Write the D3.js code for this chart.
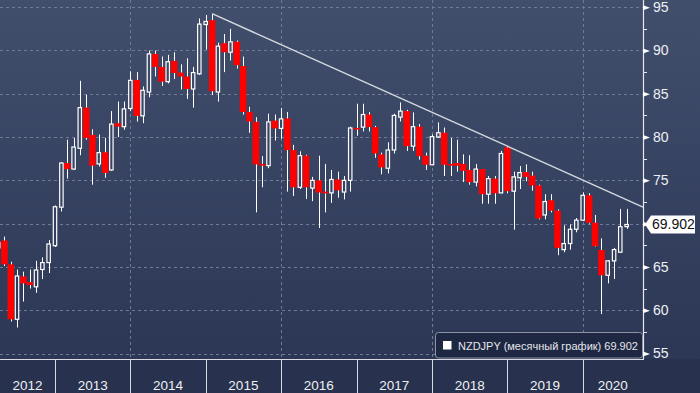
<!DOCTYPE html>
<html>
<head>
<meta charset="utf-8">
<title>NZDJPY monthly</title>
<script src="https://cdn.jsdelivr.net/npm/d3@7/dist/d3.min.js"></script>
<style>
  html, body { margin: 0; padding: 0; background: #28314d; }
  svg { display: block; font-family: "Liberation Sans", Arial, sans-serif; }
</style>
</head>
<body>
<svg id="chart" width="700" height="393"></svg>
<script>
// monthly candles, NZDJPY
const months = [
  "2012-03","2012-04","2012-05","2012-06","2012-07","2012-08","2012-09","2012-10","2012-11","2012-12",
  "2013-01","2013-02","2013-03","2013-04","2013-05","2013-06","2013-07","2013-08","2013-09","2013-10","2013-11","2013-12",
  "2014-01","2014-02","2014-03","2014-04","2014-05","2014-06","2014-07","2014-08","2014-09","2014-10","2014-11","2014-12",
  "2015-01","2015-02","2015-03","2015-04","2015-05","2015-06","2015-07","2015-08","2015-09","2015-10","2015-11","2015-12",
  "2016-01","2016-02","2016-03","2016-04","2016-05","2016-06","2016-07","2016-08","2016-09","2016-10","2016-11","2016-12",
  "2017-01","2017-02","2017-03","2017-04","2017-05","2017-06","2017-07","2017-08","2017-09","2017-10","2017-11","2017-12",
  "2018-01","2018-02","2018-03","2018-04","2018-05","2018-06","2018-07","2018-08","2018-09","2018-10","2018-11","2018-12",
  "2019-01","2019-02","2019-03","2019-04","2019-05","2019-06","2019-07","2019-08","2019-09","2019-10","2019-11","2019-12",
  "2020-01","2020-02","2020-03","2020-04","2020-05","2020-06","2020-07"
];
const open = [
  67.2, 68.05, 65.3, 58.95, 63.9, 63.25, 62.7, 64.7, 65.5, 67.45,
  71.9, 77.0, 76.3, 78.7, 83.4, 80.25, 76.9, 78.24, 76.2, 81.6, 81.2, 83.3,
  86.6, 82.45, 85.2, 89.6, 88.1, 86.4, 88.8, 87.45, 87.0, 85.55, 87.3, 93.0,
  93.5, 85.2, 90.85, 89.8, 91.0, 88.2, 82.9, 81.75, 76.9, 76.7, 81.9, 81.0,
  82.15, 78.5, 74.2, 77.85, 74.1, 75.0, 73.7, 73.55, 75.1, 73.65, 75.0, 81.05,
  81.15, 82.6, 81.15, 78.0, 76.4, 78.5, 82.3, 83.0, 78.95, 81.2, 77.85, 76.8,
  80.0, 80.5, 76.9, 77.0, 76.9, 76.2, 74.8, 76.3, 73.4, 75.2, 73.55, 78.8,
  73.75, 75.3, 75.95, 75.55, 74.4, 71.0, 72.7, 71.5, 67.0, 67.7, 69.35, 70.4,
  73.27, 70.1, 66.96, 64.04, 65.7, 66.7, 69.65
];
const high = [
  68.4, 68.5, 65.6, 64.7, 64.45, 64.7, 65.7, 66.1, 68.1, 72.1,
  77.1, 79.7, 79.9, 86.5, 84.9, 80.9, 80.3, 79.9, 83.0, 84.1, 84.1, 87.6,
  87.5, 85.85, 90.0, 90.0, 89.3, 89.5, 89.8, 88.4, 89.1, 88.1, 93.7, 94.1,
  94.2, 90.9, 91.9, 92.5, 91.15, 89.3, 83.5, 82.3, 77.8, 82.7, 82.6, 83.35,
  82.9, 79.1, 78.35, 77.95, 75.4, 77.85, 76.9, 76.2, 76.0, 75.5, 81.2, 83.85,
  83.85, 82.9, 81.3, 78.2, 79.4, 82.7, 84.0, 83.15, 82.85, 81.5, 78.2, 80.3,
  81.7, 81.1, 79.9, 79.7, 78.0, 77.9, 76.9, 76.3, 75.5, 75.5, 78.4, 78.9,
  76.0, 76.65, 76.85, 76.0, 74.5, 73.4, 73.4, 71.65, 69.8, 69.9, 70.65, 73.6,
  73.5, 71.0, 68.3, 65.8, 67.2, 71.7, 71.7
];
const low = [
  66.5, 65.1, 58.7, 58.0, 61.0, 62.5, 62.0, 63.6, 64.3, 67.3,
  71.4, 75.2, 76.2, 77.9, 79.7, 74.5, 76.6, 75.3, 76.1, 80.0, 80.85, 83.0,
  81.8, 81.6, 84.6, 87.0, 85.9, 86.2, 86.7, 85.5, 84.4, 83.4, 87.2, 90.1,
  84.85, 84.1, 87.5, 88.85, 87.9, 82.6, 80.5, 71.3, 74.2, 76.4, 79.6, 79.8,
  73.7, 73.2, 74.0, 72.85, 72.6, 69.5, 71.3, 72.4, 73.0, 72.8, 73.7, 80.15,
  80.65, 80.65, 77.6, 75.7, 75.8, 78.1, 81.8, 78.4, 78.4, 77.4, 76.2, 76.75,
  79.9, 75.5, 75.5, 76.0, 74.8, 74.5, 74.3, 72.3, 72.3, 72.3, 73.5, 73.5,
  69.3, 74.0, 74.9, 73.8, 70.5, 70.5, 71.3, 66.35, 66.7, 67.0, 69.0, 70.3,
  70.0, 67.35, 59.55, 63.1, 63.6, 66.7, 69.4
];
const close = [
  67.8, 65.3, 58.95, 63.95, 63.1, 62.9, 64.65, 65.5, 67.65, 71.95,
  77.0, 76.3, 78.85, 83.4, 79.9, 76.7, 78.2, 75.85, 81.5, 81.2, 83.25, 86.55,
  82.45, 85.4, 89.6, 88.1, 86.4, 88.7, 87.4, 87.0, 85.55, 87.45, 93.05, 93.35,
  85.3, 90.5, 89.8, 91.0, 88.3, 82.9, 81.8, 76.85, 76.7, 81.75, 81.0, 82.1,
  78.5, 74.2, 77.85, 74.2, 75.0, 73.6, 73.5, 75.1, 73.85, 75.0, 81.05, 80.9,
  82.6, 81.15, 78.1, 76.5, 78.5, 82.5, 83.0, 78.95, 81.2, 77.8, 76.8, 80.05,
  80.5, 76.8, 76.7, 76.7, 76.1, 74.8, 76.3, 73.4, 75.2, 73.5, 78.1, 73.75,
  75.4, 75.9, 75.4, 74.4, 70.6, 72.55, 71.5, 67.2, 67.7, 69.35, 70.4, 73.27,
  70.1, 67.4, 64.04, 65.7, 67.0, 69.65, 69.902
];
const yTicks = [55, 60, 65, 70, 75, 80, 85, 90, 95];
const yMinor = [57.5, 62.5, 67.5, 72.5, 77.5, 82.5, 87.5, 92.5];
const years = [2012, 2013, 2014, 2015, 2016, 2017, 2018, 2019, 2020];
const gridYears = [2014, 2016, 2018, 2020];
// resistance line: two highs it touches
const trendMonths = ["2015-01", "2018-12"];
const trendValues = [94.25, 78.95];
const lastPrice = "69.902";
const legendText = "NZDJPY (месячный график) " + lastPrice;

const W = 700, H = 393;
const plotRight = 643, plotBottom = 359;

const parse = d3.timeParse("%Y-%m");
// candle is stamped at the end of its month
const stamp = m => d3.timeMonth.offset(parse(m), 1);

const x = d3.scaleTime()
  .domain([new Date(2013, 0, 1), new Date(2020, 0, 1)])
  .range([55, 582.7]);
const y = d3.scaleLinear().domain([55, 95]).range([353.5, 7.2]);

const data = months.map((m, i) => ({
  date: stamp(m), o: open[i], h: high[i], l: low[i], c: close[i]
}));

const svg = d3.select("#chart");
const defs = svg.append("defs");

const grad = defs.append("linearGradient")
  .attr("id", "bg").attr("gradientUnits", "userSpaceOnUse")
  .attr("x1", 0).attr("y1", 0).attr("x2", 0).attr("y2", plotBottom);
grad.append("stop").attr("offset", "0%").attr("stop-color", "#414e6c");
grad.append("stop").attr("offset", "100%").attr("stop-color", "#2c3756");

defs.append("clipPath").attr("id", "plotclip")
  .append("rect").attr("x", 0).attr("y", 0).attr("width", plotRight).attr("height", plotBottom);

svg.append("rect").attr("width", W).attr("height", H).attr("fill", "#28314d");
svg.append("rect").attr("width", W).attr("height", plotBottom).attr("fill", "url(#bg)");

// grid
const grid = svg.append("g").attr("stroke", "#6e7a96").attr("stroke-dasharray", "3,3").attr("stroke-width", 1);
grid.selectAll("line.h").data(yTicks).join("line")
  .attr("x1", 0).attr("x2", plotRight)
  .attr("y1", d => Math.round(y(d)) + 0.5).attr("y2", d => Math.round(y(d)) + 0.5);
grid.selectAll("line.v").data(gridYears).join("line")
  .attr("x1", d => Math.round(x(new Date(d, 0, 1))) + 0.5)
  .attr("x2", d => Math.round(x(new Date(d, 0, 1))) + 0.5)
  .attr("y1", 0).attr("y2", plotBottom);

// candles
const plot = svg.append("g").attr("clip-path", "url(#plotclip)");

plot.selectAll("line.wick").data(data).join("line")
  .attr("class", "wick")
  .attr("x1", d => Math.round(x(d.date)) + 0.5)
  .attr("x2", d => Math.round(x(d.date)) + 0.5)
  .attr("y1", d => y(d.h)).attr("y2", d => y(d.l))
  .attr("stroke", "#ffffff").attr("stroke-width", 1);

const up = data.filter(d => d.c >= d.o);
const down = data.filter(d => d.c < d.o);

plot.selectAll("rect.down").data(down).join("rect")
  .attr("class", "down")
  .attr("x", d => x(d.date) - 3.3)
  .attr("width", 6.6)
  .attr("y", d => y(d.o))
  .attr("height", d => Math.max(1.5, y(d.c) - y(d.o)))
  .attr("fill", "#ff0000");

// hollow bodies: filled with the same background so the wick stays hidden
plot.selectAll("rect.up").data(up).join("rect")
  .attr("class", "up")
  .attr("x", d => x(d.date) - 1.7)
  .attr("width", 3.4)
  .attr("y", d => y(d.c))
  .attr("height", d => Math.max(1, y(d.o) - y(d.c)))
  .attr("fill", "url(#bg)")
  .attr("stroke", "#ffffff").attr("stroke-width", 1.2);

// trend line from first touch to the right edge
const t0 = { x: x(stamp(trendMonths[0])), y: y(trendValues[0]) };
const t1 = { x: x(stamp(trendMonths[1])), y: y(trendValues[1]) };
const slope = (t1.y - t0.y) / (t1.x - t0.x);
svg.append("line")
  .attr("x1", t0.x).attr("y1", t0.y)
  .attr("x2", plotRight).attr("y2", t0.y + slope * (plotRight - t0.x))
  .attr("stroke", "#d4d8e0").attr("stroke-width", 1.4);

// right axis
svg.append("line")
  .attr("x1", plotRight + 0.5).attr("x2", plotRight + 0.5)
  .attr("y1", 0).attr("y2", plotBottom)
  .attr("stroke", "#e6e8ee").attr("stroke-width", 1.2);

const py = y(+lastPrice);

const yAxis = svg.append("g")
  .attr("transform", `translate(${plotRight},0)`)
  .call(d3.axisRight(y).tickValues(yTicks).tickSize(0).tickPadding(10).tickFormat(d3.format("d")));
yAxis.select(".domain").remove();
yAxis.selectAll("text")
  .attr("fill", "#eef0f4").attr("font-size", 14)
  .attr("font-family", "'Liberation Sans', Arial, sans-serif");
// the price flag covers the label next to it
yAxis.selectAll(".tick").filter(d => Math.abs(y(d) - py) < 12).select("text").remove();
yAxis.selectAll(".tick").append("path")
  .attr("d", "M0,-2.5L7,0L0,2.5Z").attr("fill", "#ffffff");

svg.append("g").selectAll("line").data(yMinor).join("line")
  .attr("x1", plotRight).attr("x2", plotRight + 4)
  .attr("y1", d => Math.round(y(d)) + 0.5).attr("y2", d => Math.round(y(d)) + 0.5)
  .attr("stroke", "#e6e8ee");

// last price flag
svg.append("path")
  .attr("d", `M645,${py} L651,${py - 9} L695,${py - 9} L695,${py + 9} L651,${py + 9} Z`)
  .attr("fill", "#ffffff");
svg.append("text")
  .attr("x", 652).attr("y", py + 5)
  .attr("font-size", 14).attr("fill", "#111111")
  .text(lastPrice);

// bottom axis: year bands
svg.append("line")
  .attr("x1", 0).attr("x2", plotRight + 1)
  .attr("y1", plotBottom + 0.5).attr("y2", plotBottom + 0.5)
  .attr("stroke", "#d8dbe2").attr("stroke-width", 1);

const bounds = years.slice(1).map(yr => x(new Date(yr, 0, 1)));
svg.append("g").selectAll("line").data(bounds).join("line")
  .attr("x1", d => Math.round(d) + 0.5).attr("x2", d => Math.round(d) + 0.5)
  .attr("y1", plotBottom).attr("y2", H)
  .attr("stroke", "#d8dbe2");

svg.append("g").selectAll("text").data(years).join("text")
  .attr("x", yr => {
    const a = Math.max(0, x(new Date(yr, 0, 1)));
    const b = Math.min(plotRight, x(new Date(yr + 1, 0, 1)));
    return (a + b) / 2;
  })
  .attr("y", 389.5)
  .attr("text-anchor", "middle")
  .attr("font-size", 13.5)
  .attr("fill", "#eef0f4")
  .text(yr => yr);

// legend
const lg = svg.append("g");
lg.append("rect")
  .attr("x", 435.5).attr("y", 332.5).attr("width", 207).attr("height", 25.5).attr("rx", 3)
  .attr("fill", "#1f2842").attr("stroke", "#8d93a3");
lg.append("rect")
  .attr("x", 443).attr("y", 341).attr("width", 8.5).attr("height", 8.5).attr("fill", "#ffffff");
lg.append("text")
  .attr("x", 458).attr("y", 349.5)
  .attr("font-size", 11).attr("fill", "#e4e6ec")
  .text(legendText);
</script>
</body>
</html>
